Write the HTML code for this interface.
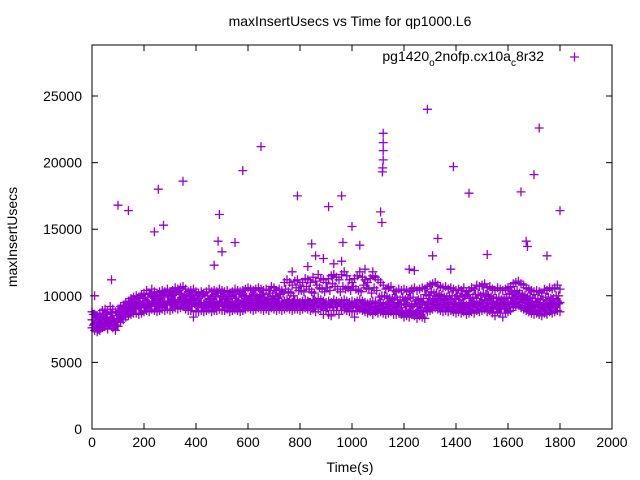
<!DOCTYPE html>
<html><head><meta charset="utf-8"><style>
body{margin:0;background:#fff}
svg{display:block;font-family:"Liberation Sans",sans-serif}
</style></head><body>
<svg id="chart" width="640" height="480" viewBox="0 0 640 480">
<text x="350" y="26" text-anchor="middle" font-size="14">maxInsertUsecs vs Time for qp1000.L6</text>
<text transform="translate(17,237) rotate(-90)" text-anchor="middle" font-size="14">maxInsertUsecs</text>
<text x="350" y="472" text-anchor="middle" font-size="14">Time(s)</text>
<g id="axes"></g>
<g id="marks"></g>
<g>
<text x="544" y="61" text-anchor="end" font-size="14">pg1420<tspan font-size="10" dy="5">o</tspan><tspan dy="-5">2nofp.cx10a</tspan><tspan font-size="10" dy="5">c</tspan><tspan dy="-5">8r32</tspan></text>
<path d="M570 57h9M574.5 52.5v9" stroke="#9400d3" stroke-width="1.3"/>
</g>
<rect x="92" y="45" width="520" height="384" fill="none" stroke="#000" stroke-width="1"/>
</svg>
<script>
const xTicks=[0,200,400,600,800,1000,1200,1400,1600,1800,2000];
const yTicks=[0,5000,10000,15000,20000,25000];
const bandStep=10;
const mid=[8200,7900,7800,8000,8200,8300,8100,8400,8300,8000,8300,
8600,8700,8900,9000,9100,9200,9300,9200,9300,9400,
9500,9400,9600,9500,9400,9500,9600,9500,9600,9500,
9600,9700,9600,9700,9800,9600,9500,9600,9700,9500,
9400,9500,9400,9500,9600,9400,9500,9500,9600,9500,
9500,9600,9400,9500,9600,9500,9400,9500,9600,9700,
9600,9500,9600,9700,9600,9500,9600,9500,9700,9600,
9500,9600,9500,9600,9700,9600,9500,9700,9600,9500,
9600,9700,9600,9500,9700,9600,9800,9700,9600,9500,
9600,9500,9700,9600,9500,9600,9700,9600,9500,9600,
9500,9600,9700,9600,9500,9400,9500,9600,9500,9400,
9500,9400,9300,9400,9500,9300,9200,9400,9300,9400,
9300,9200,9300,9400,9200,9300,9400,9300,9500,9600,
9700,9800,9700,9600,9500,9600,9500,9600,9500,9400,
9500,9400,9500,9300,9400,9500,9400,9600,9500,9600,
9700,9500,9600,9400,9300,9500,9400,9300,9400,9500,
9600,9800,9900,10000,9800,9700,9600,9500,9400,9300,
9400,9300,9200,9400,9300,9500,9400,9500,9600,9500];
const lo=[7600,7400,7300,7400,7600,7700,7500,7800,7600,7400,7700,
8000,8200,8400,8500,8600,8700,8700,8600,8700,8800,
8900,8800,9000,8900,8800,8900,9000,8900,9000,8900,
9000,9100,9000,9100,9200,9000,8900,8900,8400,8800,
8800,8900,8800,8900,9000,8800,8900,8900,9000,8900,
8900,9000,8800,8900,9000,8900,8800,8900,9000,9100,
9000,8900,9000,9100,9000,8900,9000,8900,9100,9000,
8900,9000,8900,9000,9100,9000,8900,9000,9000,8900,
9000,9100,9000,8900,9000,8800,9000,9000,8600,8900,
8600,8500,8900,8900,8600,8900,9000,8900,8800,8800,
8400,8900,9000,8900,8800,8700,8800,8600,8800,8700,
8800,8700,8600,8700,8800,8600,8600,8700,8600,8400,
8500,8400,8600,8500,8300,8500,8400,8300,8800,8900,
9000,9100,9000,8900,8800,8900,8800,8900,8800,8700,
8800,8700,8800,8600,8700,8800,8700,8900,8800,8900,
9000,8800,8900,8700,8500,8800,8700,8400,8700,8800,
8900,9100,9200,9300,9100,9000,8900,8800,8700,8600,
8700,8600,8500,8700,8600,8800,8700,8800,8900,8800];
const hi=[8800,8600,8500,8700,8900,9000,8800,9200,9000,8800,9000,
9200,9300,9500,9600,9800,9900,10000,9900,10100,10200,
10400,10200,10500,10300,10200,10300,10400,10300,10500,10300,
10400,10600,10500,10600,10700,10500,10300,10400,10500,10300,
10200,10300,10200,10300,10500,10300,10400,10300,10500,10400,
10300,10400,10200,10300,10500,10400,10300,10400,10500,10600,
10500,10400,10500,10600,10500,10400,10500,10400,10700,10600,
10400,10500,10400,11000,11200,11000,10800,11100,11200,10800,
11000,11300,11200,11000,11400,11100,11600,11300,11200,11000,
11300,11500,11600,11400,11200,11600,11800,11500,11200,11000,
11300,11500,11800,11400,11200,11000,11300,11500,11400,11200,
11000,10800,10500,10600,10700,10400,10300,10500,10400,10500,
10400,10300,10500,10600,10400,10500,10600,10500,10700,10800,
10900,11000,10800,10700,10600,10700,10500,10600,10500,10400,
10500,10400,10600,10300,10400,10600,10500,10800,10700,10800,
10900,10600,10700,10500,10400,10600,10500,10400,10500,10600,
10700,10900,11000,11100,10900,10800,10600,10500,10400,10300,
10400,10300,10200,10500,10400,10600,10500,10600,10800,10500];
const jitterA=[8600,7600,8200,7700,8500,8000,7900,8700,8200,7800,
8300,9000,8600,9300,8800,9500,9000,9600,9100,9800,
9100,9900,9300,10000,9200,9800,9400,10100,9300,9900,
9300,10100,9400,10200,9500,9900,9300,10000,9200,9800,
9200,9900,9100,10000,9300,9800,9200,10000,9300,9900,
9200,9800,9300,10000,9100,9900,9200,10100,9300,9900,
9300,10000,9200,9900,9400,10100,9300,9800,9200,10000,
9300,9900,9200,10200,9400,10300,9200,10000,9300,10400,
9200,10300,9400,10500,9300,10200,9400,10600,9200,10300,
9100,10400,9300,10700,9200,10300,9400,10500,9200,10400,
9300,10500,9100,10300,9200,10600,9100,10200,9000,10400,
9100,10000,8900,9900,9000,9800,8900,9700,8800,9900,
8900,9800,8800,9900,8700,9700,8900,9800,9000,10000,
9200,10200,9300,10100,9100,9900,9200,10000,9100,9800,
9100,9900,9000,10000,9100,9800,9000,10100,9200,10000,
9300,10100,9100,9900,9000,9800,9100,9700,9000,9900,
9200,10200,9400,10400,9300,10100,9200,9900,9000,9800,
9000,9800,8900,9700,9000,9900,9100,9800,9200,10000];
const jitterB=[7800,8400,7500,8300,7700,8600,8100,8000,7700,8500,
8900,8400,9200,8900,9400,9100,9600,9300,9800,9500,
9900,9400,10100,9500,9900,9300,10000,9400,10200,9600,
10000,9500,10300,9600,10100,9400,9900,9300,10100,9400,
9900,9400,10100,9300,10000,9400,9900,9300,10200,9500,
10000,9400,9900,9300,10100,9500,9900,9400,10000,9500,
9900,9400,10100,9500,10000,9300,9900,9400,10200,9500,
10000,9300,10100,9400,10500,9500,10200,9300,10600,9400,
10400,9300,10700,9500,10300,9200,10800,9400,10500,9300,
10600,9200,10900,9400,10500,9300,10700,9200,10600,9300,
10700,9200,10400,9300,10800,9100,10500,9200,10600,9000,
9900,9000,10000,9100,9800,8900,9900,9000,9700,8800,
9700,8700,9900,8800,9600,8900,9800,8800,10100,9100,
10300,9400,10200,9200,10000,9300,9900,9100,10000,9200,
10000,9100,9900,9200,10100,9000,9900,9300,10100,9200,
10200,9200,10000,9100,9800,9000,9900,9100,9800,9200,
10100,9500,10300,9600,10200,9300,10000,9100,9900,9000,
9800,9000,9700,9100,9900,9200,9800,9300,10000,9400];
const outT=[10,75,100,140,240,255,275,350,470,485,490,500,550,580,650,790,830,845,860,910,960,965,1000,1030,1110,1115,1117,1118,1120,1120,1120,1120,1290,1310,1330,1390,1450,1520,1650,1670,1675,1700,1720,1750,1800,1380,1220,1240,890,930,960,770,1050,1080];
const outV=[10000,11200,16800,16400,14800,18000,15300,18600,12300,14100,16100,13300,14000,19400,21200,17500,12200,13900,13000,16700,17500,14000,15200,13800,16300,15500,19300,19600,20200,20900,21500,22200,24000,13000,14300,19700,17700,13100,17800,14100,13700,19100,22600,13000,16400,12000,12000,11900,12800,12400,12600,11800,12000,11800];
const X0=92,X1=612,Y0=429,Y25=96;
const xs=v=>X0+(v-0)/(2000-0)*(X1-X0);
const ys=v=>Y0-v/25000*(Y0-Y25);
const NS="http://www.w3.org/2000/svg";
const axes=document.getElementById('axes');
const marks=document.getElementById('marks');
function mk(tag,attrs,parent){const e=document.createElementNS(NS,tag);for(const k in attrs)e.setAttribute(k,attrs[k]);parent.appendChild(e);return e;}
xTicks.forEach(t=>{const x=xs(t);
const p=mk('path',{d:`M${x} 429v-6M${x} 45v6`,stroke:'#000','stroke-width':1},axes);


const l=mk('text',{x:x,y:447,'text-anchor':'middle','font-size':14},axes);l.textContent=t;


});
yTicks.forEach(t=>{const y=ys(t);
const p=mk('path',{d:`M92 ${y}h6M612 ${y}h-6`,stroke:'#000','stroke-width':1},axes);


const l=mk('text',{x:82,y:y+5,'text-anchor':'end','font-size':14},axes);l.textContent=t;


});
let d='';
function plus(t,v){const x=xs(t),y=ys(v);d+=`M${(x-4.5).toFixed(1)} ${y.toFixed(1)}h9M${x.toFixed(1)} ${(y-4.5).toFixed(1)}v9`;}
[lo,mid,hi].forEach(arr=>arr.forEach((v,i)=>plus(i*bandStep,v)));
[jitterA,jitterB].forEach(arr=>arr.forEach((v,i)=>plus(i*bandStep+bandStep/2,v)));
outT.forEach((t,i)=>plus(t,outV[i]));
const pts=mk('path',{d:d,stroke:'#9400d3','stroke-width':1.3,fill:'none'},marks);


</script>
</body></html>
